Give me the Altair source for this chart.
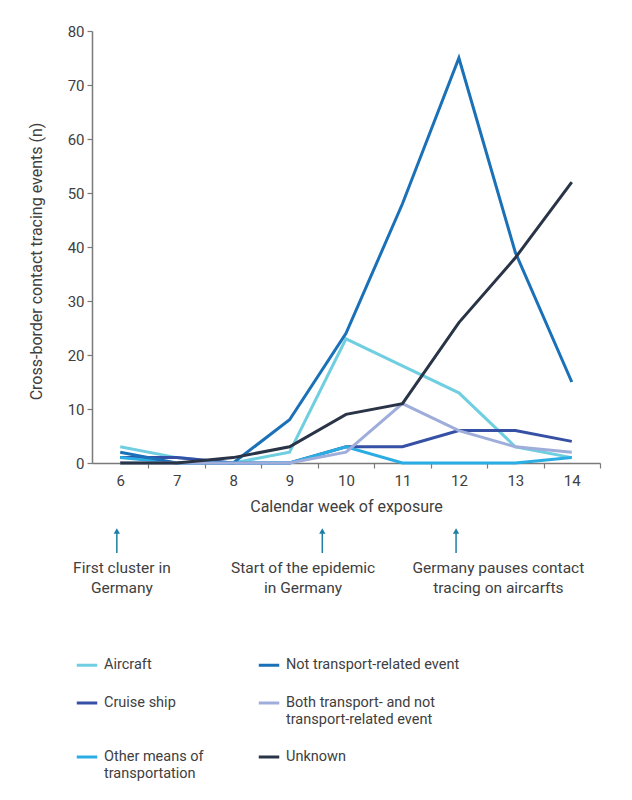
import altair as alt
import pandas as pd

weeks = [6, 7, 8, 9, 10, 11, 12, 13, 14]

series_names = [
    "Aircraft",
    "Cruise ship",
    "Other means of transportation",
    "Not transport-related event",
    "Both transport- and not transport-related event",
    "Unknown",
]
series_colors = ["#6fcfe0", "#3550a4", "#29ade3", "#1a71b8", "#9faddb", "#2a3447"]

aircraft = [3, 1, 0, 2, 23, 18, 13, 3, 1]
cruise_ship = [1, 1, 0, 0, 3, 3, 6, 6, 4]
other_means = [1, 0, 0, 0, 3, 0, 0, 0, 1]
not_transport = [2, 0, 0, 8, 24, 48, 75, 39, 15]
both = [0, 0, 0, 0, 2, 11, 6, 3, 2]
unknown = [0, 0, 1, 3, 9, 11, 26, 38, 52]

series_values = [aircraft, cruise_ship, other_means, not_transport, both, unknown]

ann_arrow_week = [5.94, 9.58, 11.95]
ann_text_week = [6.03, 9.24, 12.70]
ann_text = [
    "First cluster in\nGermany",
    "Start of the epidemic\nin Germany",
    "Germany pauses contact\ntracing  on aircarfts",
]

rows = []
for name, vals in zip(series_names, series_values):
    for w, v in zip(weeks, vals):
        rows.append({"week": w, "series": name, "value": v})
df = pd.DataFrame(rows)

ann_df = pd.DataFrame({"arrow": ann_arrow_week, "textx": ann_text_week, "text": ann_text})

FONT = "Roboto, sans-serif"
TXT = "#404040"

xscale = alt.Scale(domain=[5.5, 14.5], nice=False, zero=False)
yscale = alt.Scale(domain=[0, 80], nice=False)

label_expr = (
    "datum.label == 'Both transport- and not transport-related event' ? "
    "['Both transport- and not', 'transport-related event'] : "
    "datum.label == 'Other means of transportation' ? "
    "['Other means of', 'transportation'] : datum.label"
)

lines = alt.Chart(df).mark_line(strokeWidth=3).encode(
    x=alt.X(
        "week:Q",
        scale=xscale,
        axis=alt.Axis(
            values=weeks,
            title="Calendar week of exposure",
            tickOffset=28.22,
            labelOffset=-28.22,
            tickSize=5,
            labelPadding=5,
            titlePadding=10,
            format="d",
        ),
    ),
    y=alt.Y(
        "value:Q",
        scale=yscale,
        axis=alt.Axis(
            values=[0, 10, 20, 30, 40, 50, 60, 70, 80],
            title="Cross-border contact tracing events (n)",
            tickSize=5,
            labelPadding=3,
            titleX=-56,
            titleY=230,
            titleAngle=270,
            titleAlign="center",
            titleBaseline="middle",
        ),
    ),
    color=alt.Color(
        "series:N",
        scale=alt.Scale(domain=series_names, range=series_colors),
        sort=series_names,
        legend=alt.Legend(
            title=None,
            orient="none",
            legendX=-17,
            legendY=622,
            columns=2,
            columnPadding=48,
            rowPadding=19,
            symbolType="stroke",
            symbolStrokeWidth=3,
            symbolSize=420,
            labelFontSize=14.5,
            labelFont=FONT,
            labelColor=TXT,
            labelLimit=300,
            labelOffset=5,
            labelExpr=label_expr,
        ),
    ),
)

arrow_color = "#1f7ea3"
arrows = alt.Chart(ann_df).mark_rule(color=arrow_color, strokeWidth=1.5).encode(
    x="arrow:Q", y=alt.value(522), y2=alt.value(500)
)
heads = alt.Chart(ann_df).mark_point(
    shape="triangle-up", filled=True, color=arrow_color, size=40, opacity=1
).encode(x="arrow:Q", y=alt.value(500))
texts = alt.Chart(ann_df).mark_text(
    lineBreak="\n", align="center", baseline="top", fontSize=15.5, font=FONT,
    color=TXT, lineHeight=20,
).encode(x="textx:Q", y=alt.value(530), text="text:N")

chart = (
    alt.layer(lines, arrows, heads, texts)
    .properties(
        width=508,
        height=432,
        autosize=alt.AutoSizeParams(type="none"),
        padding={"left": 84, "top": 23, "right": 24, "bottom": 329},
    )
    .configure_view(stroke=None)
    .configure_axis(
        domainColor="#7a7a7a",
        tickColor="#7a7a7a",
        domainWidth=1.5,
        tickWidth=1.2,
        grid=False,
        labelFont=FONT,
        titleFont=FONT,
        labelFontSize=15,
        titleFontSize=16,
        labelColor=TXT,
        titleColor=TXT,
        titleFontWeight="normal",
    )
)

chart.save("out.html", embed_options={"renderer": "svg", "actions": False})
